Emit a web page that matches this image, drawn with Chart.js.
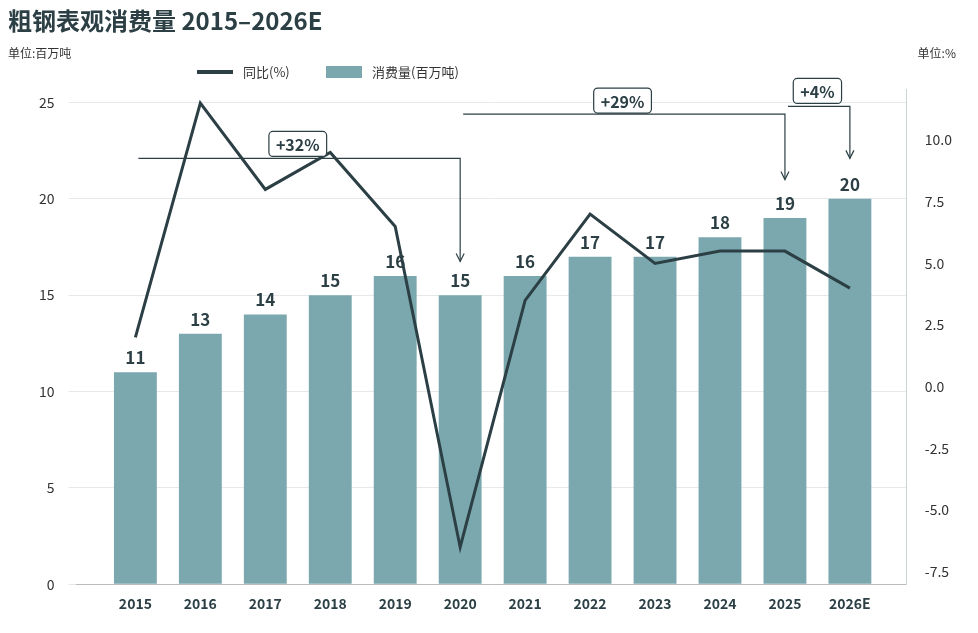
<!DOCTYPE html>
<html><head><meta charset="utf-8">
<script src="https://cdn.jsdelivr.net/npm/chart.js@4"></script>
<style>
body{margin:0;background:#fff;font-family:"Noto Sans CJK SC","Noto Sans",sans-serif;}
#wrap{position:relative;width:978px;height:633px;}
h1{position:absolute;left:8px;top:2px;margin:0;font-size:24px;font-weight:700;color:#2b3f45;}
.u{position:absolute;top:44px;font-size:12px;color:#333;}
.lg{position:absolute;top:62px;font-size:13px;color:#333;display:flex;align-items:center;}
.lg i{display:inline-block;margin-right:10px;}
canvas{position:absolute;left:0;top:0;}
</style></head><body>
<div id="wrap">
<canvas id="c" width="978" height="633"></canvas>
<h1>粗钢表观消费量 2015–2026E</h1>
<div class="u" style="left:8px">单位:百万吨</div>
<div class="u" style="right:22px">单位:%</div>
<div class="lg" style="left:197px"><i style="width:36px;height:4px;background:#2b3f45"></i>同比(%)</div>
<div class="lg" style="left:326px"><i style="width:36px;height:12px;background:#7ba8ae"></i>消费量(百万吨)</div>
</div>
<script>
const years = ['2015','2016','2017','2018','2019','2020','2021','2022','2023','2024','2025','2026E'];
const consumption = [11,13,14,15,16,15,16,17,17,18,19,20];
const yoy = [2.0,11.5,8.0,9.5,6.5,-6.5,3.5,7.0,5.0,5.5,5.5,4.0];
// brackets: [fromIndex, toIndex, lineValue, arrowEndValue, label, labelIndex, labelValue]
const brackets = [
  [0,5,22.1,16.75,'+32%',2.5,22.85],
  [5,10,24.4,21.0,'+29%',7.5,25.1],
  [10,11,24.8,22.1,'+4%',10.5,25.6]
];
const dark = '#2b3f45';
const font = "'Noto Sans CJK SC','Noto Sans',sans-serif";

const overlay = {
  id:'overlay',
  afterDatasetsDraw(chart){
    const {ctx, scales:{x,y}} = chart;
    ctx.save();
    ctx.font = `bold 17px ${font}`; ctx.fillStyle = dark; ctx.textAlign='center'; ctx.textBaseline='bottom';
    consumption.forEach((v,i)=>ctx.fillText(v, x.getPixelForValue(i), y.getPixelForValue(v)-6));
    ctx.strokeStyle = dark; ctx.lineWidth = 1.2;
    brackets.forEach(([a,b,lv,ev,txt,li,lvv])=>{
      const x1 = x.getPixelForValue(a)+3, x2 = x.getPixelForValue(b), yl = y.getPixelForValue(lv), ye = y.getPixelForValue(ev);
      ctx.beginPath(); ctx.moveTo(x1,yl); ctx.lineTo(x2,yl); ctx.lineTo(x2,ye); ctx.stroke();
      ctx.beginPath(); ctx.moveTo(x2-4,ye-8); ctx.lineTo(x2,ye); ctx.lineTo(x2+4,ye-8); ctx.stroke();
      const lx = x.getPixelForValue(li), ly = y.getPixelForValue(lvv);
      ctx.font = `bold 16px ${font}`;
      const w = ctx.measureText(txt).width + 14, h = 25;
      ctx.fillStyle='#fff'; ctx.beginPath(); ctx.roundRect(lx-w/2, ly-h/2, w, h, 4); ctx.fill(); ctx.stroke();
      ctx.fillStyle = dark; ctx.textBaseline='middle'; ctx.fillText(txt, lx, ly+1);
    });
    ctx.restore();
  }
};

new Chart(document.getElementById('c'), {
  data:{
    datasets:[
      {type:'line', label:'同比(%)', data:yoy.map((v,i)=>({x:i,y:v})), yAxisID:'y1', borderColor:dark, borderWidth:3, pointRadius:0, tension:0, order:0},
      {type:'bar', label:'消费量(百万吨)', data:consumption.map((v,i)=>({x:i,y:v})), yAxisID:'y', backgroundColor:'#7ba8ae', barPercentage:0.66, categoryPercentage:1, order:1}
    ]
  },
  options:{
    responsive:false, animation:false,
    layout:{padding:{top:89,left:25,right:16,bottom:18}},
    plugins:{legend:{display:false}, tooltip:{enabled:false}},
    scales:{
      x:{type:'linear', min:-0.906, max:11.876, offset:false, grid:{display:false}, border:{color:'#bbb'},
         afterBuildTicks(s){s.ticks=years.map((_,i)=>({value:i}));},
         ticks:{font:{family:font,size:14,weight:'bold'}, color:dark, callback:v=>years[v]}},
      y:{min:0, max:25.7, border:{display:false}, grid:{color:'#e6e9ea'},
         afterBuildTicks(s){s.ticks=[0,5,10,15,20,25].map(v=>({value:v}));},
         ticks:{font:{family:font,size:14}, color:'#333', padding:14}},
      y1:{position:'right', min:-8, max:12.07, grid:{display:false}, border:{color:'#c9d6cf'},
         afterBuildTicks(s){s.ticks=[-7.5,-5,-2.5,0,2.5,5,7.5,10].map(v=>({value:v}));},
         ticks:{font:{family:font,size:14}, color:'#333', padding:10, callback:v=>v.toFixed(1)}}
    }
  },
  plugins:[overlay]
});
</script>
</body></html>
